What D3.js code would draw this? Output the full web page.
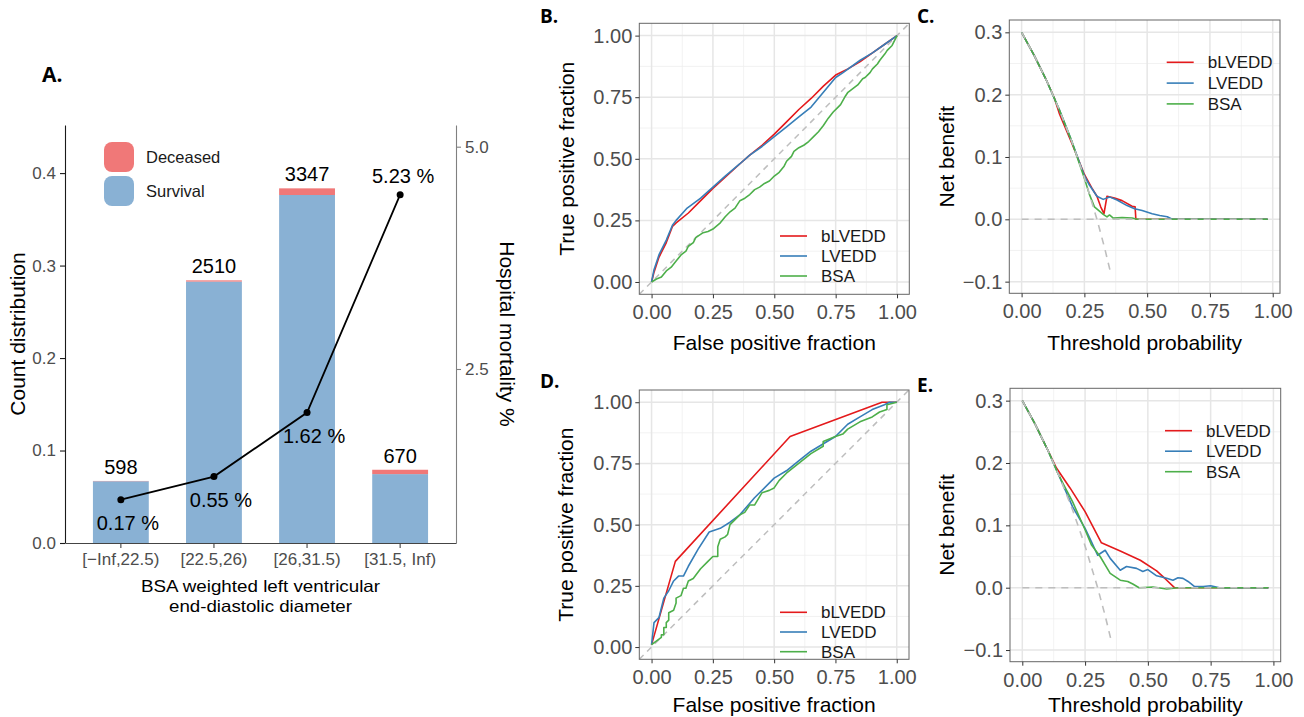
<!DOCTYPE html>
<html>
<head>
<meta charset="utf-8">
<script src="https://cdn.jsdelivr.net/npm/d3@7"></script>
<style>
  body { margin: 0; background: #fff; }
  svg { display: block; }
  text { font-family: "Liberation Sans", Arial, sans-serif; }
  .tag { font-family: "Open Sans", sans-serif; font-weight: 700; }
</style>
</head>
<body>
<div id="fig"></div>
<script>
// ---- panel A data
const bins = ['[−Inf,22.5)', '[22.5,26)', '[26,31.5)', '[31.5, Inf)'];
const survival = [0.0668, 0.2827, 0.3763, 0.0745];
const deceased = [0.0003, 0.0013, 0.0072, 0.0047];
const counts = [598, 2510, 3347, 670];
const mortality = [1.03, 1.29, 2.01, 4.46];          // where the points sit on the right axis
const mortalityLabels = ['0.17 %', '0.55 %', '1.62 %', '5.23 %'];
const countTicks = [0, 0.1, 0.2, 0.3, 0.4];
const mortalityTicks = [2.5, 5.0];

// ---- models
const modelNames = ['bLVEDD', 'LVEDD', 'BSA'];
const modelColors = ['#E41A1C', '#377EB8', '#4DAF4A'];

// ---- panel B (ROC)
const rocB_bLVEDD = [[0,0],[0.01,0.04],[0.03,0.1],[0.06,0.16],[0.085,0.225],[0.1,0.24],[0.15,0.28],[0.2,0.33],[0.25,0.38],[0.3,0.425],[0.36,0.48],[0.4,0.515],[0.45,0.555],[0.5,0.6],[0.55,0.65],[0.6,0.7],[0.65,0.745],[0.7,0.795],[0.75,0.84],[0.8,0.865],[0.85,0.895],[0.9,0.93],[0.95,0.965],[1,1]];
const rocB_LVEDD = [[0,0],[0.01,0.05],[0.03,0.11],[0.06,0.17],[0.085,0.23],[0.1,0.25],[0.145,0.3],[0.2,0.34],[0.25,0.385],[0.3,0.43],[0.36,0.48],[0.4,0.515],[0.45,0.55],[0.5,0.59],[0.55,0.63],[0.6,0.67],[0.65,0.71],[0.7,0.77],[0.75,0.83],[0.78,0.85],[0.85,0.9],[0.9,0.93],[0.95,0.965],[1,1]];
const rocB_BSA = [[0,0],[0.02,0.012],[0.04,0.02],[0.06,0.045],[0.08,0.06],[0.1,0.085],[0.12,0.11],[0.14,0.125],[0.15,0.145],[0.17,0.16],[0.18,0.18],[0.21,0.2],[0.23,0.205],[0.25,0.215],[0.28,0.24],[0.3,0.265],[0.32,0.285],[0.34,0.3],[0.36,0.33],[0.38,0.34],[0.4,0.355],[0.42,0.375],[0.44,0.385],[0.46,0.4],[0.48,0.41],[0.5,0.43],[0.52,0.445],[0.54,0.47],[0.55,0.49],[0.57,0.51],[0.58,0.53],[0.6,0.545],[0.62,0.555],[0.64,0.57],[0.66,0.59],[0.68,0.61],[0.7,0.635],[0.72,0.665],[0.74,0.69],[0.76,0.71],[0.77,0.72],[0.79,0.755],[0.8,0.77],[0.82,0.785],[0.84,0.8],[0.86,0.825],[0.87,0.83],[0.89,0.85],[0.9,0.865],[0.92,0.885],[0.93,0.9],[0.95,0.925],[0.96,0.94],[0.98,0.96],[1,1]];

// ---- panel D (ROC)
const rocD_bLVEDD = [[0,0.01],[0.097,0.35],[0.565,0.86],[0.94,1],[1,1]];
const rocD_LVEDD = [[0,0.01],[0.01,0.1],[0.03,0.12],[0.05,0.2],[0.07,0.23],[0.09,0.27],[0.11,0.29],[0.13,0.29],[0.15,0.33],[0.19,0.4],[0.235,0.47],[0.28,0.485],[0.32,0.51],[0.36,0.54],[0.42,0.61],[0.5,0.69],[0.55,0.72],[0.6,0.76],[0.65,0.8],[0.75,0.86],[0.8,0.91],[0.85,0.94],[0.9,0.97],[0.95,0.99],[0.97,1],[1,1]];
const rocD_BSA = [[0,0.01],[0.04,0.04],[0.04,0.05],[0.05,0.05],[0.05,0.08],[0.06,0.08],[0.06,0.1],[0.07,0.11],[0.07,0.14],[0.09,0.15],[0.1,0.18],[0.1,0.2],[0.12,0.21],[0.13,0.24],[0.14,0.24],[0.15,0.27],[0.17,0.28],[0.2,0.32],[0.23,0.35],[0.25,0.37],[0.27,0.37],[0.27,0.41],[0.28,0.44],[0.3,0.45],[0.31,0.46],[0.32,0.5],[0.36,0.54],[0.38,0.55],[0.4,0.58],[0.42,0.58],[0.45,0.63],[0.48,0.64],[0.5,0.65],[0.52,0.68],[0.55,0.71],[0.6,0.75],[0.65,0.79],[0.7,0.82],[0.7,0.84],[0.75,0.86],[0.78,0.87],[0.8,0.89],[0.85,0.92],[0.9,0.94],[0.93,0.96],[0.96,0.97],[0.96,0.99],[1,1]];

// ---- panel C (decision curve)
const dcaC_bLVEDD = [[0,0.3],[0.05,0.263],[0.1,0.222],[0.13,0.195],[0.15,0.17],[0.2,0.122],[0.25,0.072],[0.28,0.05],[0.3,0.037],[0.315,0.02],[0.328,0.009],[0.34,0.037],[0.37,0.034],[0.4,0.03],[0.44,0.021],[0.452,0.02],[0.455,0],[0.98,0]];
const dcaC_LVEDD = [[0,0.3],[0.05,0.263],[0.1,0.222],[0.15,0.176],[0.2,0.125],[0.25,0.07],[0.27,0.055],[0.3,0.037],[0.325,0.032],[0.35,0.036],[0.38,0.031],[0.42,0.022],[0.45,0.017],[0.48,0.014],[0.52,0.009],[0.55,0.006],[0.58,0.004],[0.6,0],[0.98,0]];
const dcaC_BSA = [[0,0.3],[0.05,0.263],[0.1,0.222],[0.15,0.176],[0.2,0.125],[0.25,0.066],[0.27,0.04],[0.29,0.02],[0.31,0.013],[0.325,0.008],[0.34,0.004],[0.35,0.007],[0.365,0.002],[0.4,0.003],[0.44,0.002],[0.46,0],[0.98,0]];

// ---- panel E (decision curve)
const dcaE_bLVEDD = [[0,0.3],[0.05,0.263],[0.1,0.222],[0.136,0.192],[0.19,0.16],[0.25,0.122],[0.315,0.072],[0.39,0.059],[0.47,0.044],[0.535,0.027],[0.57,0.014],[0.606,0],[0.98,0]];
const dcaE_LVEDD = [[0,0.3],[0.05,0.263],[0.1,0.222],[0.15,0.176],[0.2,0.13],[0.25,0.095],[0.275,0.074],[0.3,0.052],[0.315,0.056],[0.33,0.06],[0.35,0.047],[0.39,0.028],[0.415,0.034],[0.455,0.031],[0.48,0.026],[0.5,0.029],[0.535,0.019],[0.575,0.015],[0.6,0.012],[0.62,0.016],[0.64,0.015],[0.66,0.01],[0.685,0.002],[0.72,0.002],[0.75,0.003],[0.785,0],[0.98,0]];
const dcaE_BSA = [[0,0.3],[0.05,0.263],[0.1,0.222],[0.14,0.185],[0.165,0.165],[0.2,0.138],[0.25,0.093],[0.275,0.069],[0.31,0.05],[0.35,0.023],[0.39,0.012],[0.42,0.01],[0.44,0.006],[0.465,0],[0.52,0.001],[0.575,-0.002],[0.62,0],[0.98,0]];

// reference strategies
const treatAll = [[0,0.3],[0.05,0.263],[0.1,0.222],[0.15,0.176],[0.2,0.125],[0.25,0.067],[0.3,0],[0.33,-0.045],[0.357,-0.09]];
const treatNone = [[0,0],[0.98,0]];

const rocTicks = [0, 0.25, 0.5, 0.75, 1];
const rocMinor = [0.125, 0.375, 0.625, 0.875];
const dcaXTicks = [0, 0.25, 0.5, 0.75, 1];
const dcaYTicks = [-0.1, 0, 0.1, 0.2, 0.3];
const dcaYMinor = [-0.05, 0.05, 0.15, 0.25];

const svg = d3.select('#fig').append('svg').attr('width', 1304).attr('height', 717);

// ================= panel A
const a = {left: 65, right: 456, top: 125, bottom: 543};
const xA = d3.scaleBand().domain(bins).range([a.left, a.right]).paddingInner(0.4).paddingOuter(0.3);
const yA = d3.scaleLinear().domain([0, 0.452]).range([a.bottom, a.top]);
const yR = d3.scaleLinear().domain([0.543, 5.244]).range([a.bottom, a.top]);

const barTable = bins.map((b, i) => ({bin: b, survival: survival[i], deceased: deceased[i]}));
const stacked = d3.stack().keys(['survival', 'deceased'])(barTable);
const barColor = {survival: '#89B1D4', deceased: '#F07878'};

svg.append('g').selectAll('g').data(stacked).join('g')
    .attr('fill', d => barColor[d.key])
    .selectAll('rect').data(d => d).join('rect')
    .attr('x', d => xA(d.data.bin))
    .attr('width', xA.bandwidth())
    .attr('y', d => yA(d[1]))
    .attr('height', d => yA(d[0]) - yA(d[1]));

svg.append('g').selectAll('text').data(counts).join('text')
    .attr('x', (d, i) => xA(bins[i]) + xA.bandwidth() / 2)
    .attr('y', (d, i) => yA(survival[i] + deceased[i]) - 7)
    .attr('text-anchor', 'middle')
    .style('font-size', '20px')
    .text(d => d);

const mortLine = d3.line()
    .x((d, i) => xA(bins[i]) + xA.bandwidth() / 2)
    .y(d => yR(d));
svg.append('path').datum(mortality)
    .attr('d', mortLine).attr('fill', 'none')
    .attr('stroke', '#000').attr('stroke-width', 1.8);
svg.append('g').selectAll('circle').data(mortality).join('circle')
    .attr('cx', (d, i) => xA(bins[i]) + xA.bandwidth() / 2)
    .attr('cy', d => yR(d)).attr('r', 3.5).attr('fill', '#000');
svg.append('g').selectAll('text').data(mortalityLabels).join('text')
    .attr('x', (d, i) => xA(bins[i]) + xA.bandwidth() / 2 + (i < 3 ? 7 : 3))
    .attr('y', (d, i) => yR(mortality[i]) + (i < 3 ? 30 : -12))
    .attr('text-anchor', 'middle')
    .style('font-size', '20px')
    .text(d => d);

// axes
const axLeft = svg.append('g').attr('transform', `translate(${a.left},0)`)
    .call(d3.axisLeft(yA).tickValues(countTicks).tickFormat(d3.format('.1f')).tickSize(5).tickSizeOuter(0).tickPadding(4));
const axBottom = svg.append('g').attr('transform', `translate(0,${a.bottom})`)
    .call(d3.axisBottom(xA).tickSize(5).tickSizeOuter(0).tickPadding(5));
const axRight = svg.append('g').attr('transform', `translate(${a.right},0)`)
    .call(d3.axisRight(yR).tickValues(mortalityTicks).tickFormat(d3.format('.1f')).tickSize(5).tickSizeOuter(0).tickPadding(4));
[[axLeft, '#1a1a1a'], [axBottom, '#444'], [axRight, '#808080']].forEach(([ax, c]) => {
    ax.select('.domain').attr('stroke', c).attr('stroke-width', 1.1);
    ax.selectAll('.tick line').attr('stroke', c).attr('stroke-width', 1.1);
    ax.selectAll('.tick text').attr('fill', '#4D4D4D').style('font-size', '17px');
});

svg.append('text')
    .attr('transform', `translate(18,${(a.top + a.bottom) / 2}) rotate(-90)`)
    .attr('text-anchor', 'middle').attr('dy', '0.35em')
    .style('font-size', '21px').text('Count distribution');
svg.append('text')
    .attr('transform', `translate(507,${(a.top + a.bottom) / 2}) rotate(90)`)
    .attr('text-anchor', 'middle').attr('dy', '0.35em')
    .style('font-size', '21px').text('Hospital mortality %');
svg.append('text').attr('x', (a.left + a.right) / 2).attr('y', 592)
    .attr('text-anchor', 'middle').style('font-size', '16.5px')
    .attr('textLength', 239).attr('lengthAdjust', 'spacingAndGlyphs')
    .text('BSA weighted left ventricular');
svg.append('text').attr('x', (a.left + a.right) / 2).attr('y', 612)
    .attr('text-anchor', 'middle').style('font-size', '16.5px')
    .attr('textLength', 183).attr('lengthAdjust', 'spacingAndGlyphs')
    .text('end-diastolic diameter');

// legend A
const legA = svg.append('g');
[['Deceased', barColor.deceased, 142], ['Survival', barColor.survival, 176]].forEach(([lab, col, y0]) => {
    legA.append('rect').attr('x', 104).attr('y', y0).attr('width', 30).attr('height', 30)
        .attr('rx', 8).attr('fill', col);
    legA.append('text').attr('x', 146).attr('y', y0 + 15).attr('dy', '0.35em')
        .style('font-size', '16.5px').attr('fill', '#1a1a1a').text(lab);
});

// ================= curve panels
function curvePanel(p) {
    const x = d3.scaleLinear().domain(p.xDomain).range([p.left, p.right]);
    const y = d3.scaleLinear().domain(p.yDomain).range([p.bottom, p.top]);
    const g = svg.append('g');

    // grid
    g.append('g').selectAll('line').data(p.xMinor).join('line')
        .attr('x1', d => x(d)).attr('x2', d => x(d)).attr('y1', p.top).attr('y2', p.bottom)
        .attr('stroke', '#EFEFEF').attr('stroke-width', 0.8);
    g.append('g').selectAll('line').data(p.yMinor).join('line')
        .attr('y1', d => y(d)).attr('y2', d => y(d)).attr('x1', p.left).attr('x2', p.right)
        .attr('stroke', '#EFEFEF').attr('stroke-width', 0.8);
    g.append('g').selectAll('line').data(p.xTicks).join('line')
        .attr('x1', d => x(d)).attr('x2', d => x(d)).attr('y1', p.top).attr('y2', p.bottom)
        .attr('stroke', '#E6E6E6').attr('stroke-width', 1.5);
    g.append('g').selectAll('line').data(p.yTicks).join('line')
        .attr('y1', d => y(d)).attr('y2', d => y(d)).attr('x1', p.left).attr('x2', p.right)
        .attr('stroke', '#E6E6E6').attr('stroke-width', 1.5);

    const clipId = 'clip' + p.id;
    svg.append('clipPath').attr('id', clipId).append('rect')
        .attr('x', p.left).attr('y', p.top)
        .attr('width', p.right - p.left).attr('height', p.bottom - p.top);
    const plot = g.append('g').attr('clip-path', `url(#${clipId})`);
    const line = d3.line().x(d => x(d[0])).y(d => y(d[1]));

    if (p.diagonal) {
        plot.append('line')
            .attr('x1', x(p.xDomain[0])).attr('y1', y(p.xDomain[0]))
            .attr('x2', x(p.xDomain[1])).attr('y2', y(p.xDomain[1]))
            .attr('stroke', '#BEBEBE').attr('stroke-width', 1.5).attr('stroke-dasharray', '6,5');
    }
    p.series.forEach((s, i) => {
        plot.append('path').datum(s).attr('d', line).attr('fill', 'none')
            .attr('stroke', modelColors[i]).attr('stroke-width', 1.6)
            .attr('stroke-linejoin', 'round');
    });
    (p.refs || []).forEach(r => {
        plot.append('path').datum(r).attr('d', line).attr('fill', 'none')
            .attr('stroke', '#BEBEBE').attr('stroke-width', 1.6).attr('stroke-dasharray', '7,6');
    });

    g.append('rect').attr('x', p.left).attr('y', p.top)
        .attr('width', p.right - p.left).attr('height', p.bottom - p.top)
        .attr('fill', 'none').attr('stroke', '#666').attr('stroke-width', 1);

    const ax = g.append('g').attr('transform', `translate(0,${p.bottom})`)
        .call(d3.axisBottom(x).tickValues(p.xTicks).tickFormat(d3.format('.2f')).tickSize(4).tickPadding(7));
    const ay = g.append('g').attr('transform', `translate(${p.left},0)`)
        .call(d3.axisLeft(y).tickValues(p.yTicks).tickFormat(d3.format(p.yFormat)).tickSize(4).tickPadding(3));
    [ax, ay].forEach(s => {
        s.select('.domain').remove();
        s.selectAll('.tick line').attr('stroke', '#333');
        s.selectAll('.tick text').attr('fill', '#4D4D4D').style('font-size', '20px');
    });

    g.append('text').attr('x', (p.left + p.right) / 2).attr('y', p.xTitleY)
        .attr('text-anchor', 'middle').style('font-size', '21px').text(p.xTitle);
    g.append('text')
        .attr('transform', `translate(${p.yTitleX},${(p.top + p.bottom) / 2}) rotate(-90)`)
        .attr('text-anchor', 'middle').attr('dy', '0.35em')
        .style('font-size', '21px').text(p.yTitle);

    const leg = g.append('g');
    modelNames.forEach((m, i) => {
        const ly = p.legY + i * p.legStep;
        leg.append('line').attr('x1', p.legX).attr('x2', p.legX + 27)
            .attr('y1', ly).attr('y2', ly)
            .attr('stroke', modelColors[i]).attr('stroke-width', 1.6);
        leg.append('text').attr('x', p.legX + 41).attr('y', ly).attr('dy', '0.35em')
            .style('font-size', '17px').attr('fill', '#1a1a1a').text(m);
    });

    svg.append('text').attr('class', 'tag').attr('x', p.tagX).attr('y', p.tagY)
        .style('font-size', '19px').text(p.tag);
}

curvePanel({
    id: 'B', tag: 'B.', tagX: 540, tagY: 23,
    left: 639.3, right: 909.3, top: 23.3, bottom: 294.3,
    xDomain: [-0.05, 1.05], yDomain: [-0.05, 1.05],
    xTicks: rocTicks, yTicks: rocTicks, xMinor: rocMinor, yMinor: rocMinor, yFormat: '.2f',
    series: [rocB_bLVEDD, rocB_LVEDD, rocB_BSA], diagonal: true,
    xTitle: 'False positive fraction', yTitle: 'True positive fraction',
    xTitleY: 350, yTitleX: 567,
    legX: 780, legY: 236, legStep: 20
});

curvePanel({
    id: 'C', tag: 'C.', tagX: 917, tagY: 23,
    left: 1009.3, right: 1280, top: 20, bottom: 293.3,
    xDomain: [-0.049, 1.029], yDomain: [-0.1187, 0.3198],
    xTicks: dcaXTicks, yTicks: dcaYTicks, xMinor: rocMinor, yMinor: dcaYMinor, yFormat: '.1f',
    series: [dcaC_bLVEDD, dcaC_LVEDD, dcaC_BSA], refs: [treatAll, treatNone],
    xTitle: 'Threshold probability', yTitle: 'Net benefit',
    xTitleY: 350, yTitleX: 946.7,
    legX: 1166.7, legY: 62.3, legStep: 20.8
});

curvePanel({
    id: 'D', tag: 'D.', tagX: 540, tagY: 388,
    left: 639.3, right: 909, top: 390, bottom: 659.3,
    xDomain: [-0.05, 1.05], yDomain: [-0.05, 1.05],
    xTicks: rocTicks, yTicks: rocTicks, xMinor: rocMinor, yMinor: rocMinor, yFormat: '.2f',
    series: [rocD_bLVEDD, rocD_LVEDD, rocD_BSA], diagonal: true,
    xTitle: 'False positive fraction', yTitle: 'True positive fraction',
    xTitleY: 711.7, yTitleX: 566,
    legX: 780, legY: 612.3, legStep: 19.7
});

curvePanel({
    id: 'E', tag: 'E.', tagX: 917, tagY: 391.7,
    left: 1010, right: 1280.7, top: 388.3, bottom: 661.7,
    xDomain: [-0.049, 1.029], yDomain: [-0.1187, 0.3198],
    xTicks: dcaXTicks, yTicks: dcaYTicks, xMinor: rocMinor, yMinor: dcaYMinor, yFormat: '.1f',
    series: [dcaE_bLVEDD, dcaE_LVEDD, dcaE_BSA], refs: [treatAll, treatNone],
    xTitle: 'Threshold probability', yTitle: 'Net benefit',
    xTitleY: 711.7, yTitleX: 946.7,
    legX: 1165, legY: 430.7, legStep: 20.5
});

svg.append('text').attr('class', 'tag').attr('x', 42).attr('y', 82)
    .style('font-size', '21px').text('A.');
</script>
</body>
</html>
